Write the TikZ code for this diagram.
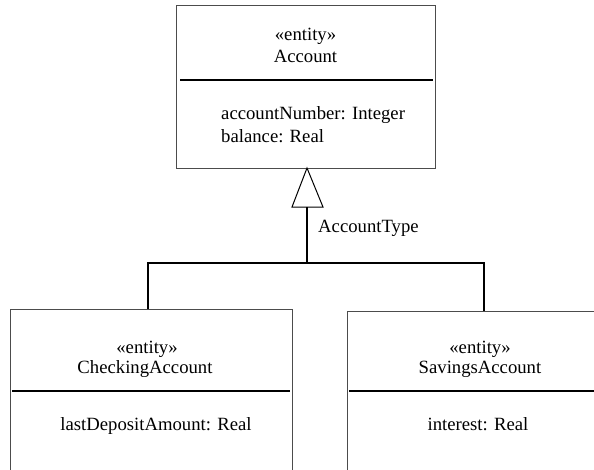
\documentclass[tikz,border=0pt]{standalone}
\usepackage{fontspec}
\setmainfont{Liberation Serif}
\begin{document}
\begin{tikzpicture}[x=1pt,y=-1pt,
  box/.style={draw=black!70,line width=1pt},
  divider/.style={draw=black,line width=2pt},
  conn/.style={draw=black,line width=2pt},
  lbl/.style={font=\fontsize{18.7}{22}\selectfont,inner sep=0pt,anchor=base},
  lbll/.style={font=\fontsize{18.7}{22}\selectfont,inner sep=0pt,anchor=base west}]
\useasboundingbox (0,0) rectangle (594,469);
\clip (0,0) rectangle (594,469);
% Account
\draw[box] (176,5) rectangle (435,168);
\draw[divider] (180,80) -- (433,80);
\node[lbl] (acst) at (305.5,40.5) {«entity»};
\node[lbl] (acn) at (305.5,62) {Account};
\node[lbll] (aca1) at (221,119.5) {accountNumber: Integer};
\node[lbll] (aca2) at (221,142) {balance: Real};
% Checking
\draw[box] (10,309) rectangle (292,480);
\draw[divider] (12,391) -- (290,391);
\node[lbl] (cst) at (147,353) {«entity»};
\node[lbl] (cn) at (145,373) {CheckingAccount};
\node[lbl] (ca1) at (156,430) {lastDepositAmount: Real};
% Savings
\draw[box] (347,311) rectangle (640,480);
\draw[divider] (349,391) -- (640,391);
\node[lbl] (sst) at (480,353) {«entity»};
\node[lbl] (sn) at (480,373) {SavingsAccount};
\node[lbl] (sa1) at (478,430) {interest: Real};
% generalization
\coordinate (apex) at (307,168);
\coordinate (bl) at (292,207);
\coordinate (br) at (323,207);
\coordinate (bm) at (307,207);
\coordinate (j) at (307,263);
\coordinate (jl) at (148,263);
\coordinate (jr) at (484,263);
\coordinate (cl) at (148,309);
\coordinate (cr) at (484,311);
\draw[black,line width=1pt,fill=white] (apex) -- (bl) -- (br) -- cycle;
\draw[conn] (bm) -- (j);
\draw[conn] ([xshift=-1pt]jl) -- ([xshift=1pt]jr);
\draw[conn] (jl) -- (cl);
\draw[conn] (jr) -- (cr);
\node[lbll] (atype) at (318,232) {AccountType};
\end{tikzpicture}
\end{document}
